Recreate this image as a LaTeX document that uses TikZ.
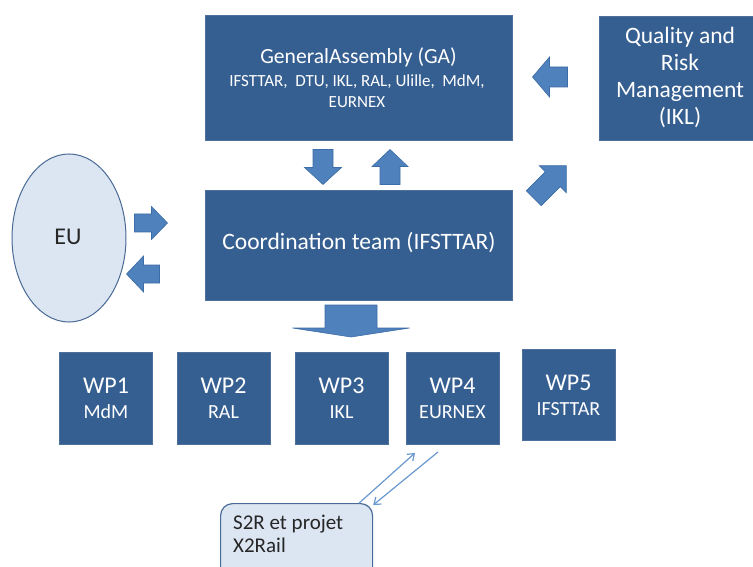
\documentclass[tikz,border=0pt]{standalone}
\usepackage{fontspec}
\setmainfont{Carlito}
\usetikzlibrary{arrows.meta,calc,shapes.geometric}
\definecolor{boxblue}{HTML}{365F91}
\definecolor{boxedge}{HTML}{4D6F9C}
\definecolor{arrowblue}{HTML}{4F81BD}
\definecolor{arrowedge}{HTML}{3D6DA6}
\definecolor{eufill}{HTML}{DCE6F2}
\definecolor{euedge}{HTML}{4A6A96}
\definecolor{linkblue}{HTML}{6B98D0}
\definecolor{darktext}{HTML}{262626}
\newcommand\blockarrow[7]{%
  \begin{scope}[shift={(#1,#2)},rotate=#3]
    \filldraw[barrow] ({-#4/2},{-#6/2}) -- ({#4/2-#7},{-#6/2}) -- ({#4/2-#7},{-#5/2}) -- ({#4/2},0) -- ({#4/2-#7},{#5/2}) -- ({#4/2-#7},{#6/2}) -- ({-#4/2},{#6/2}) -- cycle;
  \end{scope}}
\newcommand\fs[1]{\fontsize{#1}{#1}\selectfont}
\begin{document}
\begin{tikzpicture}[x=1pt,y=-1pt,
  box/.style={fill=boxblue, draw=boxedge, line width=0.8pt, inner sep=0pt},
  wp/.style={box, minimum width=93pt, minimum height=92pt},
  txt/.style={text=white, inner sep=0pt, anchor=base},
  wptxt/.style={txt, font=\fs{24}},
  wpsub/.style={txt, font=\fs{20}},
  barrow/.style={fill=arrowblue, draw=arrowedge, line width=0.6pt, line join=miter},
  link/.style={draw=linkblue, line width=1.2pt, -{Straight Barb[length=6pt,width=9pt]}}]
\clip (0,0) rectangle (753,567);
\fill[white] (0,0) rectangle (753,567);

% General Assembly
\node[box, minimum width=307pt, minimum height=125pt] (ga) at (358.5,77.5) {};
\node[txt, font=\fs{21.6}] (gat) at (358.5,64) {GeneralAssembly (GA)};
\node[txt, font=\fs{17}] (gas1) at (357,86.5) {IFSTTAR,\ \ DTU, IKL, RAL, Ulille,\ \ MdM,};
\node[txt, font=\fs{17}] (gas2) at (357,108) {EURNEX};

% Quality and Risk Management
\node[box, minimum width=156pt, minimum height=124pt] (qrm) at (677,78) {};
\node[txt, font=\fs{23.5}] (q1) at (680,44) {Quality and};
\node[txt, font=\fs{23.5}] (q2) at (680,71) {Risk};
\node[txt, font=\fs{23.5}] (q3) at (680,98) {Management};
\node[txt, font=\fs{23.5}] (q4) at (680,125) {(IKL)};

% Coordination team
\node[box, minimum width=307pt, minimum height=110pt] (coord) at (358.5,245) {};
\node[txt, font=\fs{23.5}] (coordt) at (359,250) {Coordination team (IFSTTAR)};

% EU
\node[ellipse, fill=eufill, draw=euedge, line width=1pt, minimum width=114pt, minimum height=168pt, inner sep=0pt] (eu) at (69,238) {};
\node[txt, text=darktext, font=\fs{24}] (eut) at (68,244) {EU};

% work packages
\node[wp] (wp1) at (106,398) {};
\node[wptxt] (wp1a) at (106,393) {WP1};
\node[wpsub] (wp1b) at (106,418) {MdM};
\node[wp] (wp2) at (223.5,398) {};
\node[wptxt] (wp2a) at (223.5,393) {WP2};
\node[wpsub] (wp2b) at (223.5,418) {RAL};
\node[wp] (wp3) at (341.5,398) {};
\node[wptxt] (wp3a) at (341.5,393) {WP3};
\node[wpsub] (wp3b) at (341.5,418) {IKL};
\node[wp] (wp4) at (452.5,398) {};
\node[wptxt] (wp4a) at (452.5,393) {WP4};
\node[wpsub] (wp4b) at (452.5,418) {EURNEX};
\node[wp, minimum height=91pt] (wp5) at (568.5,395) {};
\node[wptxt] (wp5a) at (568.5,390) {WP5};
\node[wpsub] (wp5b) at (568.5,415) {IFSTTAR};

% S2R box
\node[draw=euedge, fill=eufill, line width=1.2pt, rounded corners=12pt, minimum width=152pt, minimum height=84pt, anchor=north west, inner sep=0pt] (s2r) at (220,503) {};
\node[txt, anchor=base west, text=darktext, font=\fs{21}] (s2r1) at (233,529) {S2R et projet};
\node[txt, anchor=base west, text=darktext, font=\fs{21}] (s2r2) at (233,552) {X2Rail};

% block arrows
\blockarrow{151}{223}{0}{33}{33}{18}{16}
\blockarrow{143}{274}{180}{33}{36}{18}{17}
\blockarrow{323}{167}{-90}{35}{37}{20}{17}
\blockarrow{390}{167}{90}{35}{36}{20}{17}
\blockarrow{550}{77}{180}{35}{40}{20}{17}
\blockarrow{550}{182}{45}{46}{38}{21}{19}
\blockarrow{351}{321}{-90}{32}{117}{52}{9}

% links to S2R
\coordinate (l1end) at (415,453);
\coordinate (l2start) at (438,452);
\draw[link] ([xshift=-14pt]s2r.north east) -- (l1end);
\draw[link] (l2start) -- ([yshift=-2pt]s2r.north east);
\end{tikzpicture}
\end{document}
